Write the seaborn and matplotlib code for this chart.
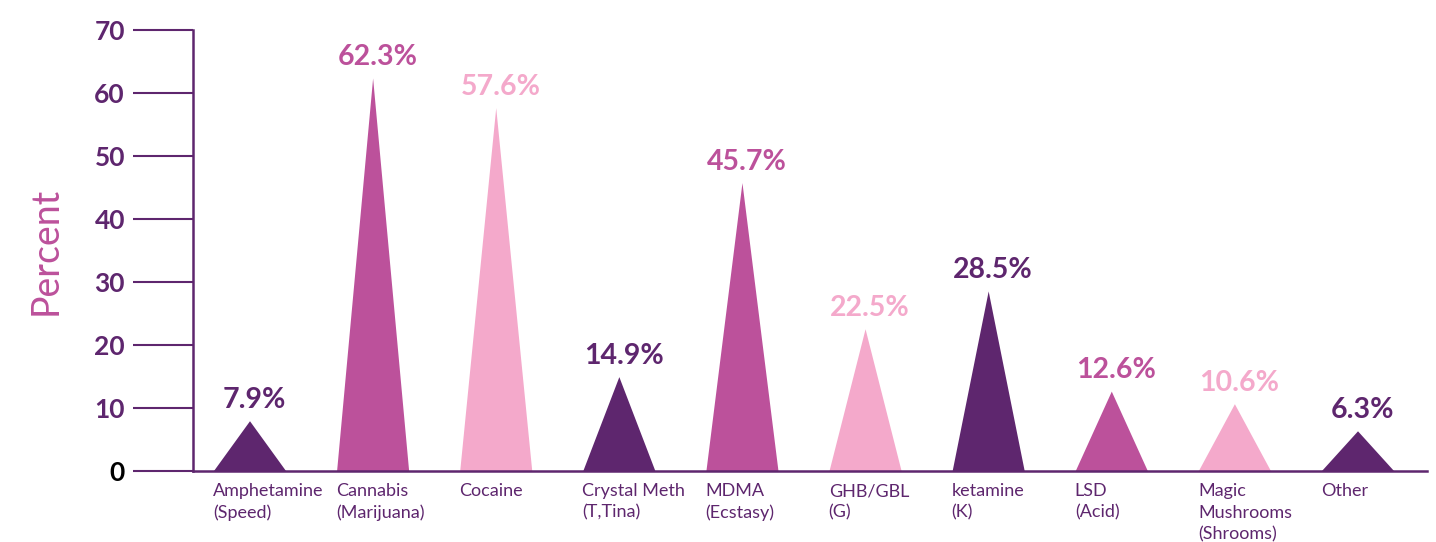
import matplotlib
matplotlib.use("Agg")
import matplotlib.pyplot as plt
from matplotlib.patches import Polygon
import matplotlib.transforms as mtransforms
import pandas as pd
import seaborn as sns

categories = ["Amphetamine\n(Speed)", "Cannabis\n(Marijuana)", "Cocaine",
              "Crystal Meth\n(T,Tina)", "MDMA\n(Ecstasy)", "GHB/GBL\n(G)",
              "ketamine\n(K)", "LSD\n(Acid)", "Magic\nMushrooms\n(Shrooms)", "Other"]
percent = [7.9, 62.3, 57.6, 14.9, 45.7, 22.5, 28.5, 12.6, 10.6, 6.3]
yticks = [0, 10, 20, 30, 40, 50, 60, 70]

DARK = "#5e266e"
MID = "#bc519b"
LIGHT = "#f4a9cb"
palette = [DARK, MID, LIGHT]
colors = [palette[i % 3] for i in range(len(categories))]

sns.set_theme(style="white")
plt.rcParams["font.family"] = ["Lato", "DejaVu Sans"]

df = pd.DataFrame({"drug": categories, "percent": percent})

fig = plt.figure(figsize=(14.36, 5.42), dpi=100)
ax = fig.add_axes([0.1344, 0.131, 0.8593, 0.8137])

sns.barplot(data=df, x="drug", y="percent", hue="drug", palette=colors,
            width=0.585, legend=False, ax=ax)

# turn each bar into a triangle spike of the same base and height
for patch, col in zip(list(ax.patches), colors):
    x0, w, h = patch.get_x(), patch.get_width(), patch.get_height()
    tri = Polygon([(x0, 0), (x0 + w / 2, h), (x0 + w, 0)], closed=True,
                  facecolor=col, edgecolor="none", zorder=2)
    patch.remove()
    ax.add_patch(tri)
    ax.annotate(f"{h:.1f}%", xy=(x0 + w / 2, h), xytext=(3, 6),
                textcoords="offset points", ha="center", va="bottom",
                fontsize=20.5, fontweight="bold", color=col)

ax.set_xlim(-0.463, 9.56)
ax.set_ylim(0, 70)
ax.set_yticks(yticks)
ax.set_yticklabels([str(v) for v in yticks], fontsize=19, fontweight="bold",
                   color=DARK)
ax.get_yticklabels()[0].set_color("black")
ax.tick_params(axis="y", direction="out", length=43, width=1.5, color=DARK,
               pad=6, left=True)

# category names sit left-aligned under each spike
ax.set_xticks([])
ax.set_xlabel("")
trans = mtransforms.blended_transform_factory(ax.transData, ax.transAxes)
offset = mtransforms.ScaledTranslation(0, -9 / 72, fig.dpi_scale_trans)
for i, name in enumerate(categories):
    ax.text(i - 0.30, 0, name, transform=trans + offset,
            ha="left", va="top", fontsize=13, color=DARK, linespacing=1.4)

ax.set_ylabel("Percent", fontsize=27, color=MID, labelpad=22)

for side in ["top", "right"]:
    ax.spines[side].set_visible(False)
for side in ["left", "bottom"]:
    ax.spines[side].set_color(DARK)
    ax.spines[side].set_linewidth(1.8)

fig.savefig("out.png", dpi=100)
